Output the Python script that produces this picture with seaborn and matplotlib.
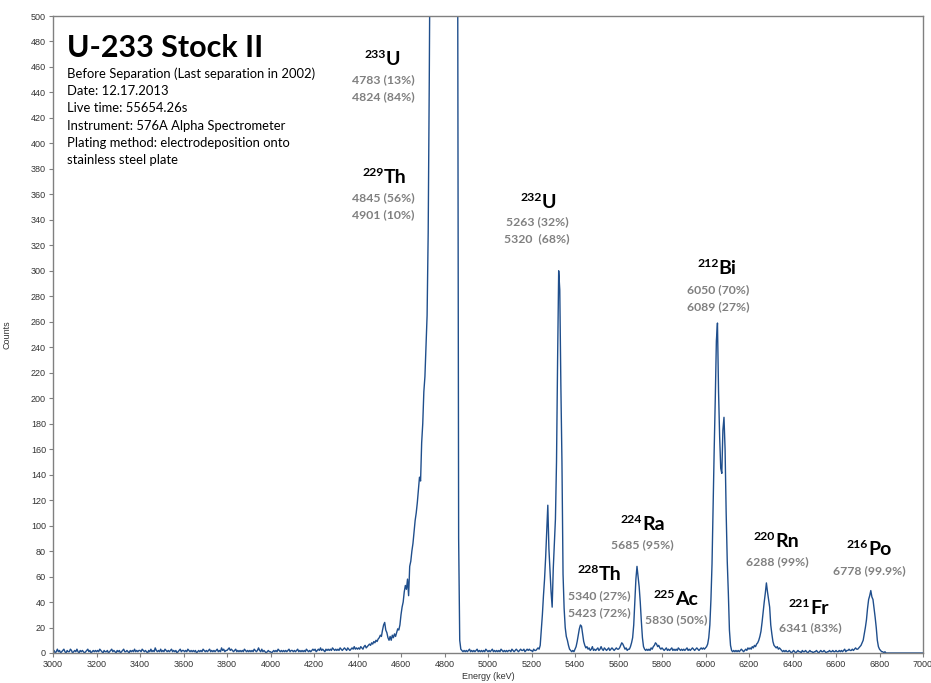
import numpy as np
import pandas as pd
import matplotlib
matplotlib.use("Agg")
import matplotlib.pyplot as plt
import seaborn as sns

# ---------------- data ----------------
energy_kev = np.arange(3000, 7001, 5)  # channel grid (keV)
counts = [
    1,2,0,1,3,1,2,0,1,2,3,1,0,2,1,1,3,2,0,1,            # 3000
    2,1,3,1,0,2,1,2,1,0,1,2,3,1,2,0,1,2,1,2,            # 3100
    1,2,1,3,2,1,0,2,1,1,2,0,1,2,3,1,2,1,0,2,            # 3200
    1,2,0,1,2,3,1,1,2,1,0,2,1,2,1,3,1,2,1,2,            # 3300
    2,1,3,2,1,2,1,0,2,1,3,1,2,1,4,2,1,2,1,3,            # 3400
    1,2,1,3,2,1,2,1,2,3,1,2,1,2,0,1,2,3,1,2,            # 3500
    2,1,2,1,3,2,1,2,1,2,1,2,0,1,2,1,2,1,3,2,            # 3600
    1,2,1,2,3,1,2,1,2,1,2,3,1,2,1,4,2,3,1,2,            # 3700
    2,3,4,2,3,2,1,2,3,1,2,1,2,1,2,1,3,2,1,2,            # 3800
    1,2,1,2,1,3,2,1,2,4,2,1,3,1,2,1,0,1,2,1,            # 3900
    1,0,1,2,1,2,1,3,2,1,2,1,2,1,2,1,2,3,1,2,            # 4000
    2,1,2,1,2,3,1,2,1,2,1,2,1,3,2,1,2,1,2,3,            # 4100
    2,3,1,2,3,2,4,2,3,2,1,3,2,3,2,3,2,4,3,2,            # 4200
    3,2,3,2,4,3,2,3,4,3,2,4,3,2,3,4,3,5,3,4,            # 4300
    3,4,3,5,4,3,5,6,4,5,6,7,6,8,7,9,8,10,9,11,          # 4400
    12,14,13,18,22,24,18,16,12,10,13,10,14,12,15,13,16,19,18,22,          # 4500
    30,36,40,48,53,50,58,45,68,72,80,86,95,104,110,118,128,138,135,165,   # 4600
    180,205,217,240,265,330,450,600,800,1000,1200,1400,1600,1800,2000,2200,2400,2600,2800,3000,  # 4700
    3200,3400,3600,3800,3900,3800,3500,3000,2500,2000,1500,1000,600,90,10,3,2,1,2,1,           # 4800
    2,1,2,3,1,2,1,2,1,2,3,1,2,1,2,1,2,1,3,2,            # 4900
    1,2,1,2,3,1,2,1,2,1,2,1,3,2,1,2,1,2,1,2,            # 5000
    2,1,3,2,1,2,3,2,1,2,3,2,2,3,1,2,3,2,3,2,            # 5100
    2,1,3,2,2,3,4,3,6,18,30,45,58,75,95,116,82,65,48,36,                  # 5200
    66,85,105,150,230,300,285,210,150,62,35,20,13,10,6,3,2,1,2,1,          # 5300
    3,5,9,14,19,22,21,15,9,6,4,5,3,4,2,3,5,2,3,2,       # 5400
    3,4,2,3,5,3,2,4,3,2,3,4,2,3,4,3,2,3,4,3,            # 5500
    3,4,6,8,7,5,3,4,2,3,3,5,8,12,22,40,58,68,60,52,     # 5600
    40,25,12,5,3,2,3,2,3,2,4,3,5,6,8,7,5,6,4,3,         # 5700
    4,3,2,3,4,2,3,2,3,4,2,3,2,3,2,4,3,2,3,2,            # 5800
    3,2,3,4,2,3,2,3,4,3,2,3,4,3,2,3,4,3,4,3,            # 5900
    4,5,7,12,22,42,70,115,160,200,245,259,205,170,145,141,175,185,160,110,  # 6000
    72,47,18,6,2,1,2,1,2,1,2,1,2,3,2,1,2,3,2,4,         # 6100
    3,4,3,5,4,6,5,7,8,10,13,17,24,32,40,47,55,48,42,36, # 6200
    22,15,9,6,5,4,5,3,4,3,2,1,2,1,2,1,1,2,1,0,          # 6300
    1,2,1,0,1,2,1,1,0,2,1,1,2,1,0,1,2,1,1,0,            # 6400
    1,1,2,1,0,1,2,1,1,2,1,0,1,1,2,1,1,2,1,1,            # 6500
    2,1,1,2,1,2,1,2,3,1,2,2,3,2,2,3,2,3,4,3,            # 6600
    3,4,5,6,8,10,15,20,26,35,42,45,49,44,42,35,28,20,10,5,  # 6700
    3,2,1,1,0,1,0,0,0,0,0,0,0,0,0,0,0,0,0,0,            # 6800
    0,0,0,0,0,0,0,0,0,0,0,0,0,0,0,0,0,0,0,0,            # 6900
    0,                                                  # 7000
]

title = "U-233 Stock II"
info_lines = [
    "Before Separation (Last separation in 2002)",
    "Date: 12.17.2013",
    "Live time: 55654.26s",
    "Instrument: 576A Alpha Spectrometer",
    "Plating method: electrodeposition onto",
    "stainless steel plate",
]
iso_mass = ["233", "229", "232", "212", "224", "228", "225", "220", "221", "216"]
iso_elem = ["U", "Th", "U", "Bi", "Ra", "Th", "Ac", "Rn", "Fr", "Po"]
iso_energies = [
    ["4783 (13%)", "4824 (84%)"],
    ["4845 (56%)", "4901 (10%)"],
    ["5263 (32%)", "5320  (68%)"],
    ["6050 (70%)", "6089 (27%)"],
    ["5685 (95%)"],
    ["5340 (27%)", "5423 (72%)"],
    ["5830 (50%)"],
    ["6288 (99%)"],
    ["6341 (83%)"],
    ["6778 (99.9%)"],
]
x_ticks = list(range(3000, 7001, 200))
y_ticks = list(range(0, 501, 20))

# ---------------- layout (label positions, data coords) ----------------
# (anchor energy, element baseline count, value-line x centre, first value-line centre)
label_layout = [
    (4531, 461.5, 4517, 449.8),
    (4522, 368.9, 4517, 357.1),
    (5248, 349.3, 5225, 338.3),
    (6060, 297.5, 6057, 284.9),
    (5708, 96.5, 5710, 84.8),
    (5510, 57.3, 5510, 44.7),
    (5860, 37.7, 5864, 25.9),
    (6320, 83.2, 6329, 71.4),
    (6480, 30.6, 6480, 19.6),
    (6747, 76.9, 6752, 64.4),
]
line_step = 13.3

df = pd.DataFrame({"Energy (keV)": energy_kev, "Counts": counts})

sns.set_theme(style="white")
plt.rcParams["font.family"] = ["Liberation Sans", "DejaVu Sans"]

fig = plt.figure(figsize=(9.31, 6.83), dpi=100)
ax = fig.add_axes([53 / 931, 1 - 653 / 683, 870 / 931, 637 / 683])

sns.lineplot(data=df, x="Energy (keV)", y="Counts", ax=ax, color="#1F4E8C",
             linewidth=1.0, estimator=None, sort=False)

ax.set_xlim(3000, 7000)
ax.set_ylim(0, 500)
ax.set_xticks(x_ticks)
ax.set_yticks(y_ticks)
ax.tick_params(axis="both", labelsize=6.5, colors="#333333", length=3,
               width=0.8, direction="out", pad=2, left=True, bottom=True)
ax.tick_params(axis="both", color="#808080")
for s in ax.spines.values():
    s.set_color("#808080")
    s.set_linewidth(1.0)
ax.set_xlabel("Energy (keV)", fontsize=6.5, color="#333333", labelpad=2)
ax.set_ylabel("Counts", fontsize=6.5, color="#333333", labelpad=14)

lato = ["Lato", "DejaVu Sans"]
ax.text(3064, 467.8, title, fontsize=22, fontweight="bold", family=lato,
        ha="left", va="baseline", color="black")
for i, line in enumerate(info_lines):
    ax.text(3064, 451.6 - i * 13.6, line, fontsize=9.4, family=lato,
            ha="left", va="baseline", color="black")

for mass, elem, vals, (ax_e, base, vx, vy) in zip(iso_mass, iso_elem,
                                                  iso_energies, label_layout):
    ax.text(ax_e, base, elem, fontsize=14, fontweight="bold", family=lato,
            ha="left", va="baseline", color="black")
    ax.annotate(mass, (ax_e, base), xytext=(0, 5), textcoords="offset points",
                fontsize=8.8, fontweight="bold", family=lato,
                ha="right", va="baseline", color="black")
    for j, v in enumerate(vals):
        ax.text(vx, vy - j * line_step, v, fontsize=8.8, fontweight="bold",
                family=lato, ha="center", va="center", color="#808080")

fig.savefig("out.png", dpi=100, facecolor="white")
